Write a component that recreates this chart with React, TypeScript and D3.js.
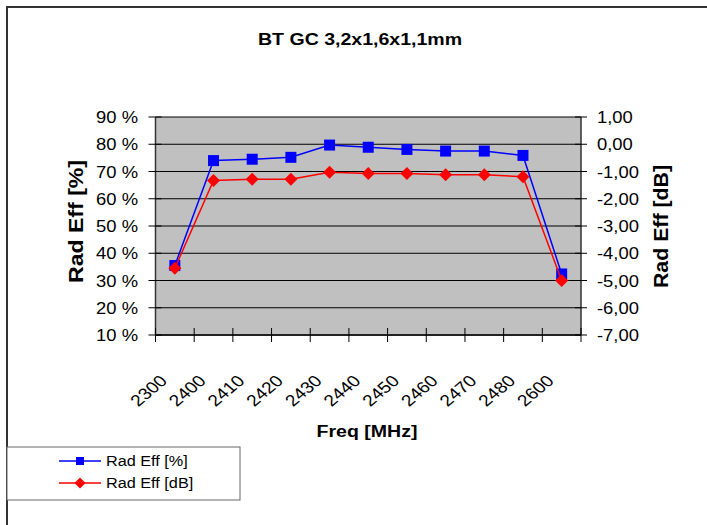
import React from "react";
import * as d3 from "d3";

const categories = ["2300", "2400", "2410", "2420", "2430", "2440", "2450", "2460", "2470", "2480", "2600"];
const radEffPct = [35.5, 74.0, 74.5, 75.2, 79.7, 78.9, 78.1, 77.5, 77.5, 75.9, 32.4];
const radEffDb = [-4.55, -1.33, -1.28, -1.28, -1.03, -1.07, -1.07, -1.12, -1.12, -1.19, -5.0];
const leftTicks = [10, 20, 30, 40, 50, 60, 70, 80, 90];
const rightTicks = [-7, -6, -5, -4, -3, -2, -1, 0, 1];

const W = 707;
const H = 525;
const plot = { left: 155.5, right: 581, top: 117, bottom: 335 };
const FONT = "'Liberation Sans', Arial, sans-serif";
const SX = 1.15;

export default function App() {
  const x = d3.scaleBand<string>().domain(categories).range([plot.left, plot.right]).padding(0);
  const yL = d3.scaleLinear().domain([10, 90]).range([plot.bottom, plot.top]);
  const yR = d3.scaleLinear().domain([-7, 1]).range([plot.bottom, plot.top]);
  const cx = (c: string) => (x(c) as number) + x.bandwidth() / 2;

  const lineL = d3
    .line<number>()
    .x((_, i) => cx(categories[i]))
    .y((d) => yL(d));
  const lineR = d3
    .line<number>()
    .x((_, i) => cx(categories[i]))
    .y((d) => yR(d));

  const fmtR = (v: number) => v.toFixed(2).replace(".", ",");
  const boundaries = categories.map((c) => x(c) as number).concat([plot.right]);

  const sq = 11;
  const dm = 6.5;
  const diamond = (px: number, py: number, r: number) =>
    `M${px},${py - r}L${px + r},${py}L${px},${py + r}L${px - r},${py}Z`;

  return (
    <svg
      width={W}
      height={H}
      style={{ position: "absolute", left: 0, top: 0, background: "#fff" }}
      fontFamily={FONT}
    >
      {/* outer frame (cropped) */}
      <rect x={7} y={7} width={760} height={580} fill="none" stroke="#333" strokeWidth={2} />

      {/* title */}
      <text
        transform={`translate(360,45) scale(1.15,1)`}
        textAnchor="middle"
        fontWeight="bold"
        fontSize={17}
        fill="#000"
      >
        BT GC 3,2x1,6x1,1mm
      </text>

      {/* plot background */}
      <rect
        x={plot.left}
        y={plot.top}
        width={plot.right - plot.left}
        height={plot.bottom - plot.top}
        fill="#C0C0C0"
      />

      {/* gridlines */}
      {leftTicks.map((t) => (
        <line key={"g" + t} x1={plot.left} x2={plot.right} y1={yL(t)} y2={yL(t)} stroke="#000" strokeWidth={1} />
      ))}

      {/* axes */}
      <line x1={plot.left} x2={plot.left} y1={plot.top} y2={plot.bottom} stroke="#333" strokeWidth={1.5} />
      <line x1={plot.right} x2={plot.right} y1={plot.top} y2={plot.bottom} stroke="#333" strokeWidth={1.5} />
      <line x1={plot.left} x2={plot.right} y1={plot.bottom} y2={plot.bottom} stroke="#222" strokeWidth={2} />

      {/* left ticks + labels */}
      {leftTicks.map((t) => (
        <g key={"l" + t}>
          <line x1={plot.left - 7} x2={plot.left + 6} y1={yL(t)} y2={yL(t)} stroke="#000" strokeWidth={1} />
          <text
            transform={`translate(138,${yL(t) + 6}) scale(${SX},1)`}
            textAnchor="end"
            fontSize={16}
            fill="#000"
          >
            {`${t} %`}
          </text>
        </g>
      ))}

      {/* right ticks + labels */}
      {rightTicks.map((t) => (
        <g key={"r" + t}>
          <line x1={plot.right - 6} x2={plot.right + 6} y1={yR(t)} y2={yR(t)} stroke="#000" strokeWidth={1} />
          <text
            transform={`translate(597,${yR(t) + 6}) scale(${SX},1)`}
            textAnchor="start"
            fontSize={16}
            fill="#000"
          >
            {fmtR(t)}
          </text>
        </g>
      ))}

      {/* bottom ticks */}
      {boundaries.map((b, i) => (
        <line key={"b" + i} x1={b} x2={b} y1={plot.bottom - 7} y2={plot.bottom + 7} stroke="#000" strokeWidth={1} />
      ))}

      {/* x tick labels */}
      {categories.map((c) => (
        <text
          key={"x" + c}
          transform={`translate(${cx(c) - 6.5},382) scale(1.2,1) rotate(-45)`}
          textAnchor="end"
          fontSize={16}
          fill="#000"
        >
          {c}
        </text>
      ))}

      {/* axis titles */}
      <text
        transform={`translate(367,437) scale(1.15,1)`}
        textAnchor="middle"
        fontWeight="bold"
        fontSize={17}
        fill="#000"
      >
        Freq [MHz]
      </text>
      <text
        transform={`translate(83,221.5) rotate(-90)`}
        textAnchor="middle"
        fontWeight="bold"
        fontSize={21}
        textLength={123}
        lengthAdjust="spacingAndGlyphs"
        fill="#000"
      >
        Rad Eff [%]
      </text>
      <text
        transform={`translate(668,226.5) rotate(-90)`}
        textAnchor="middle"
        fontWeight="bold"
        fontSize={21}
        textLength={123}
        lengthAdjust="spacingAndGlyphs"
        fill="#000"
      >
        Rad Eff [dB]
      </text>

      {/* series */}
      <path d={lineL(radEffPct) || ""} fill="none" stroke="#0000FF" strokeWidth={1.5} />
      {radEffPct.map((v, i) => (
        <rect
          key={"s" + i}
          x={cx(categories[i]) - sq / 2}
          y={yL(v) - sq / 2}
          width={sq}
          height={sq}
          fill="#0000FF"
        />
      ))}
      <path d={lineR(radEffDb) || ""} fill="none" stroke="#FF0000" strokeWidth={1.5} />
      {radEffDb.map((v, i) => (
        <path key={"d" + i} d={diamond(cx(categories[i]), yR(v), dm)} fill="#FF0000" />
      ))}

      {/* legend */}
      <rect x={7} y={447} width={233} height={53} fill="#fff" stroke="#666" strokeWidth={1} />
      <line x1={59} x2={101} y1={461} y2={461} stroke="#0000FF" strokeWidth={1.5} />
      <rect x={80 - 4} y={461 - 4} width={8} height={8} fill="#0000FF" />
      <text transform={`translate(106,466) scale(1.16,1)`} fontSize={14} fill="#000">
        Rad Eff [%]
      </text>
      <line x1={59} x2={101} y1={483} y2={483} stroke="#FF0000" strokeWidth={1.5} />
      <path d={diamond(80, 483, 5.5)} fill="#FF0000" />
      <text transform={`translate(106,488) scale(1.16,1)`} fontSize={14} fill="#000">
        Rad Eff [dB]
      </text>
    </svg>
  );
}
